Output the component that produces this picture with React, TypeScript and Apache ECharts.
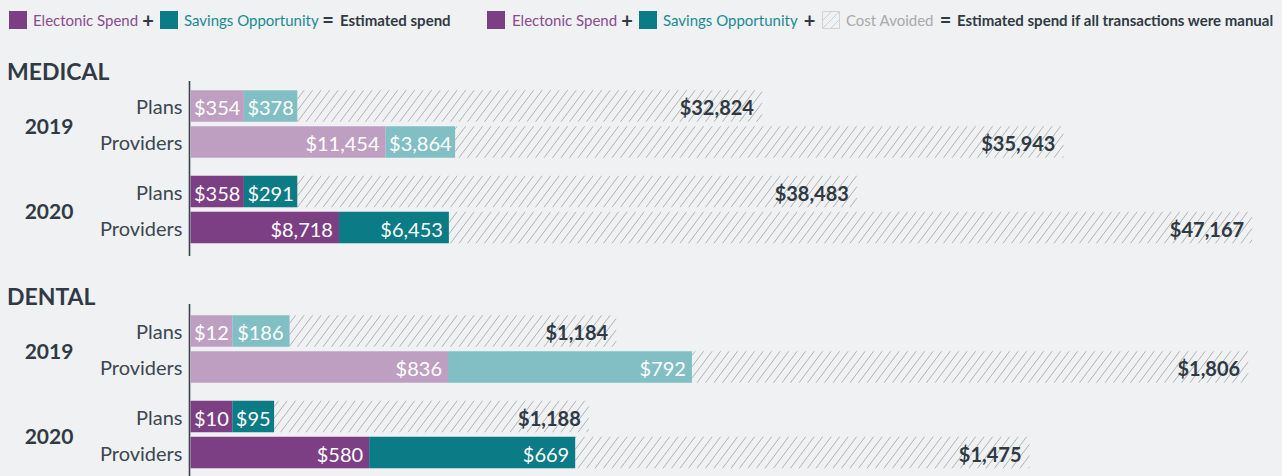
import React, { useEffect, useRef } from 'react';
import * as echarts from 'echarts';

// ---------- data ----------
const sections = ['MEDICAL', 'DENTAL'];
const years = ['2019', '2020'];
const rowLabels = ['Plans', 'Providers'];

// values per year [2019, 2020]
const medicalPlansElectronic = [354, 358];
const medicalPlansSavings = [378, 291];
const medicalPlansManual = [32824, 38483];
const medicalProvidersElectronic = [11454, 8718];
const medicalProvidersSavings = [3864, 6453];
const medicalProvidersManual = [35943, 47167];

const dentalPlansElectronic = [12, 10];
const dentalPlansSavings = [186, 95];
const dentalPlansManual = [1184, 1188];
const dentalProvidersElectronic = [836, 580];
const dentalProvidersSavings = [792, 669];
const dentalProvidersManual = [1806, 1475];

const sectionAxisMax = [63000, 3500];

// ---------- styles ----------
const FONT = 'Lato, "Noto Sans", sans-serif';
const DARK = '#2f3a44';
const LABEL = '#3d4751';
const BG = '#eff1f3';
const eColors = ['#bf9fc1', '#7d3f83'];
const sColors = ['#81bfc5', '#0b7b85'];
const HATCH = '#b2b2b2';

let measureCtx: CanvasRenderingContext2D | null = null;
function measure(text: string, weight: string, size: number) {
  if (!measureCtx) measureCtx = document.createElement('canvas').getContext('2d');
  if (!measureCtx) return text.length * size * 0.58;
  measureCtx.font = `${weight} ${size}px Lato, "Noto Sans", sans-serif`;
  return measureCtx.measureText(text).width;
}
const fmt = (n: number) => '$' + n.toLocaleString('en-US');

function hatchPath(xa: number, xb: number, top: number, bottom: number) {
  const h = bottom - top;
  const k = 0.75;
  const d = 8.5;
  const run = h * k;
  let p = '';
  const start = Math.floor((xa - run) / d) * d;
  for (let c = start; c < xb; c += d) {
    const u0 = Math.max(0, (xa - c) / run);
    const u1 = Math.min(1, (xb - c) / run);
    if (u1 <= u0) continue;
    const ax = c + u0 * run, ay = bottom - u0 * h;
    const bx = c + u1 * run, by = bottom - u1 * h;
    p += `M${ax.toFixed(2)} ${ay.toFixed(2)}L${bx.toFixed(2)} ${by.toFixed(2)}`;
  }
  return p;
}

const makeRender = (yearIdx: number) => (params: any, api: any) => {
  const cat = api.value(0);
  const e = api.value(1), s = api.value(2), t = api.value(3);
  const p0 = api.coord([0, cat]);
  const pe = api.coord([e, cat]);
  const ps = api.coord([e + s, cat]);
  const pt = api.coord([e + s + t, cat]);
  const band = api.size([0, 1])[1];
  const h = band * 0.875;
  const cy = p0[1];
  const top = cy - h / 2, bottom = top + h;
  const eText = fmt(e), sText = fmt(s), tText = fmt(t);
  const eMin = measure(eText, 'normal', 20) + 7;
  const sMin = measure(sText, 'normal', 20) + 7;
  const x0 = p0[0];
  const eProp = pe[0] - p0[0];
  const sProp = ps[0] - pe[0];
  const eLen = Math.max(eProp, eMin);
  const sLen = Math.max(sProp, sMin);
  const x1 = x0 + eLen, x2 = x1 + sLen, x3 = pt[0];
  const textBase = { fontFamily: FONT, fontSize: 20, verticalAlign: 'middle' };
  const segLabel = (text: string, xs: number, xe: number, isMin: boolean) => ({
    type: 'text',
    silent: true,
    style: {
      ...textBase,
      text,
      x: isMin ? (xs + xe) / 2 : xe - 6,
      y: cy + 1,
      align: isMin ? 'center' : 'right',
      fill: '#ffffff',
    },
  });
  return {
    type: 'group',
    children: [
      {
        type: 'path',
        silent: true,
        shape: { pathData: hatchPath(x2, x3, top, bottom) },
        style: { stroke: HATCH, lineWidth: 1, fill: 'none' },
      },
      { type: 'rect', silent: true, shape: { x: x0, y: top, width: eLen, height: h }, style: { fill: eColors[yearIdx] } },
      { type: 'rect', silent: true, shape: { x: x1, y: top, width: sLen, height: h }, style: { fill: sColors[yearIdx] } },
      segLabel(eText, x0, x1, eLen <= eMin + 0.01),
      segLabel(sText, x1, x2, sLen <= sMin + 0.01),
      {
        type: 'text',
        silent: true,
        style: { ...textBase, fontWeight: 'bold', text: tText, x: x3 - 8, y: cy + 1, align: 'right', fill: DARK },
      },
    ],
  };
};

const sectionData = [
  [
    [medicalPlansElectronic, medicalPlansSavings, medicalPlansManual],
    [medicalProvidersElectronic, medicalProvidersSavings, medicalProvidersManual],
  ],
  [
    [dentalPlansElectronic, dentalPlansSavings, dentalPlansManual],
    [dentalProvidersElectronic, dentalProvidersSavings, dentalProvidersManual],
  ],
];

const gridTops = [
  [88, 173.5],
  [313, 398.5],
];
const GRID_H = 72;
const GRID_LEFT = 190.5;
const pxPerUnit = [0.01703, 0.308];

function txt(x: number, y: number, text: string, o: any = {}) {
  return {
    type: 'text',
    x,
    y,
    silent: true,
    style: {
      text,
      fill: o.fill || DARK,
      fontFamily: FONT,
      fontSize: o.size || 15,
      fontWeight: o.weight || 'normal',
      align: o.align || 'left',
      verticalAlign: 'middle',
    },
  };
}

function buildOption() {
  const grid: any[] = [];
  const xAxis: any[] = [];
  const yAxis: any[] = [];
  const series: any[] = [];
  sections.forEach((_, si) => {
    years.forEach((_, yi) => {
      const idx = grid.length;
      const width = sectionAxisMax[si] * pxPerUnit[si];
      grid.push({ left: GRID_LEFT, top: gridTops[si][yi], height: GRID_H, width, containLabel: false });
      xAxis.push({ type: 'value', gridIndex: idx, min: 0, max: sectionAxisMax[si], show: false });
      yAxis.push({
        type: 'category',
        gridIndex: idx,
        data: rowLabels,
        inverse: true,
        axisLine: { show: false },
        axisTick: { show: false },
        axisLabel: { fontSize: 20, color: LABEL, fontFamily: FONT, margin: 8 },
      });
      const rows = sectionData[si];
      series.push({
        type: 'custom',
        xAxisIndex: idx,
        yAxisIndex: idx,
        renderItem: makeRender(yi),
        encode: { x: [1, 2, 3], y: 0 },
        data: rowLabels.map((_, ri) => [ri, rows[ri][0][yi], rows[ri][1][yi], rows[ri][2][yi]]),
      });
    });
  });

  const graphic: any[] = [];
  // section headings
  graphic.push(txt(7, 71, sections[0], { size: 23, weight: 'bold' }));
  graphic.push(txt(7, 296, sections[1], { size: 23, weight: 'bold' }));
  // year labels
  sections.forEach((_, si) =>
    years.forEach((y, yi) => graphic.push(txt(49, gridTops[si][yi] + GRID_H / 2 + 1, y, { size: 21, weight: 'bold', align: 'center' })))
  );
  // vertical axis lines
  graphic.push({ type: 'line', silent: true, shape: { x1: 189.5, y1: 81, x2: 189.5, y2: 256 }, style: { stroke: '#3a444c', lineWidth: 1.6 } });
  graphic.push({ type: 'line', silent: true, shape: { x1: 189.5, y1: 304, x2: 189.5, y2: 476 }, style: { stroke: '#3a444c', lineWidth: 1.6 } });

  // legends
  const sw = (x: number, fill: string) => ({ type: 'rect', silent: true, shape: { x, y: 11, width: 18, height: 18 }, style: { fill } });
  const ly = 20;
  graphic.push(sw(9, eColors[1]));
  graphic.push(txt(33, ly, 'Electonic Spend', { fill: '#8a4b8f' }));
  graphic.push(txt(148, ly, '+', { size: 20, weight: 'bold', align: 'center' }));
  graphic.push(sw(160, sColors[1]));
  graphic.push(txt(184, ly, 'Savings Opportunity', { fill: '#1b8a93' }));
  graphic.push(txt(328, ly - 1, '=', { size: 20, weight: 'bold', align: 'center' }));
  graphic.push(txt(340, ly, 'Estimated spend', { weight: 'bold' }));

  graphic.push(sw(487, eColors[1]));
  graphic.push(txt(512, ly, 'Electonic Spend', { fill: '#8a4b8f' }));
  graphic.push(txt(627, ly, '+', { size: 20, weight: 'bold', align: 'center' }));
  graphic.push(sw(639, sColors[1]));
  graphic.push(txt(663, ly, 'Savings Opportunity', { fill: '#1b8a93' }));
  graphic.push(txt(809.5, ly, '+', { size: 20, weight: 'bold', align: 'center' }));
  graphic.push({ type: 'rect', silent: true, shape: { x: 822.5, y: 11.5, width: 17, height: 17 }, style: { fill: 'none', stroke: '#d2d2d2', lineWidth: 1 } });
  graphic.push({ type: 'line', silent: true, shape: { x1: 823, y1: 28, x2: 839, y2: 12 }, style: { stroke: '#cfcfcf', lineWidth: 1 } });
  graphic.push({ type: 'line', silent: true, shape: { x1: 823, y1: 20, x2: 831, y2: 12 }, style: { stroke: '#cfcfcf', lineWidth: 1 } });
  graphic.push({ type: 'line', silent: true, shape: { x1: 831, y1: 28, x2: 839, y2: 20 }, style: { stroke: '#cfcfcf', lineWidth: 1 } });
  graphic.push(txt(846, ly, 'Cost Avoided', { fill: '#a9a9a9' }));
  graphic.push(txt(945.5, ly - 1, '=', { size: 20, weight: 'bold', align: 'center' }));
  graphic.push(txt(957, ly, 'Estimated spend if all transactions were manual', { weight: 'bold' }));

  return {
    animation: false,
    backgroundColor: BG,
    grid,
    xAxis,
    yAxis,
    series,
    graphic,
  };
}

export default function App() {
  const ref = useRef<HTMLDivElement>(null);
  useEffect(() => {
    document.body.style.margin = '0';
    document.body.style.background = BG;
    if (!ref.current) return;
    const chart = echarts.init(ref.current, undefined, { renderer: 'svg' });
    chart.setOption(buildOption() as any);
    return () => chart.dispose();
  }, []);
  return <div ref={ref} style={{ width: 1282, height: 476 }} />;
}
